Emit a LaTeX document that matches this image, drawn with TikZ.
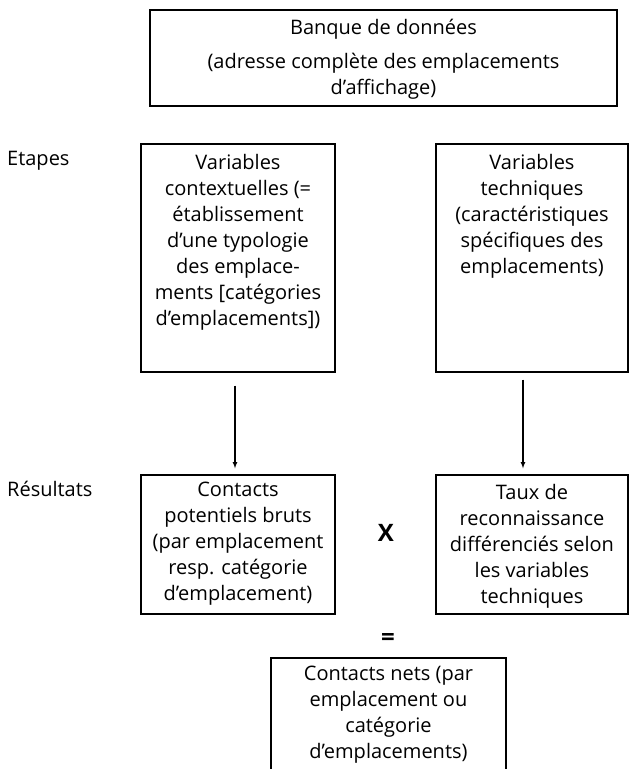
\documentclass[tikz,border=0pt]{standalone}
\usepackage{fontspec}
\setmainfont{Open Sans}
\tikzset{>=latex}
\usetikzlibrary{positioning}

\begin{document}
\begin{tikzpicture}[x=1pt, y=1pt, font=\fontsize{20}{26}\selectfont,
    frame/.style={rectangle, draw, line width=1.4pt, inner sep=0pt},
    inside/.style={align=center, inner sep=0pt}]
      \useasboundingbox (0,0) rectangle (629,-769);
      \node[frame, minimum width=467, minimum height=96] (bank) at (383.5,-58) {};
      \node[frame, minimum width=194, minimum height=228] (context) at (238,-258) {};
      \node[frame, minimum width=192, minimum height=228] (technical) at (532,-258) {};
      \node[frame, minimum width=194, minimum height=139] (gross) at (238,-544.5) {};
      \node[frame, minimum width=192, minimum height=139] (rate) at (532,-544.5) {};
      \node[frame, minimum width=235, minimum height=132] (net) at (388.5,-724) {};
      \node[inside, below=10pt of bank.north] (banktext) {Banque de données\\[8pt](adresse complète des emplacements\\d’affichage)};
      \node[inside, below=11pt of context.north] (contexttext) {Variables\\contextuelles (=\\établissement\\d’une typologie\\des emplace-\\ments [catégories\\d’emplacements])};
      \node[inside, below=11pt of technical.north] (technicaltext) {Variables\\techniques\\(caractéristiques\\spécifiques des\\emplacements)};
      \node[inside, below=8pt of gross.north] (grosstext) {Contacts\\potentiels bruts\\(par emplacement\\resp. catégorie\\d’emplacement)};
      \node[inside, below=10pt of rate.north] (ratetext) {Taux de\\reconnaissance\\différenciés selon\\les variables\\techniques};
      \node[inside, below=9pt of net.north] (nettext) {Contacts nets (par\\emplacement ou\\catégorie\\d’emplacements)};
      \node[anchor=base west, inner sep=0pt] (steps) at (7,-165) {Etapes};
      \node[anchor=base west, inner sep=0pt] (results) at (7,-496) {Résultats};
      \node[font=\fontsize{24}{28}\selectfont\bfseries] (times) at (386,-533) {X};
      \node[font=\fontsize{24}{28}\selectfont\bfseries] (equals) at (388,-639) {=};
      \draw[->, line width=1.1pt, shorten <=13pt, shorten >=6pt] ([xshift=-3pt]context.south) -- ([xshift=-3pt]gross.north);
      \draw[->, line width=1.1pt, shorten <=7pt, shorten >=6pt] ([xshift=-9pt]technical.south) -- ([xshift=-9pt]rate.north);
    \end{tikzpicture}
\end{document}
